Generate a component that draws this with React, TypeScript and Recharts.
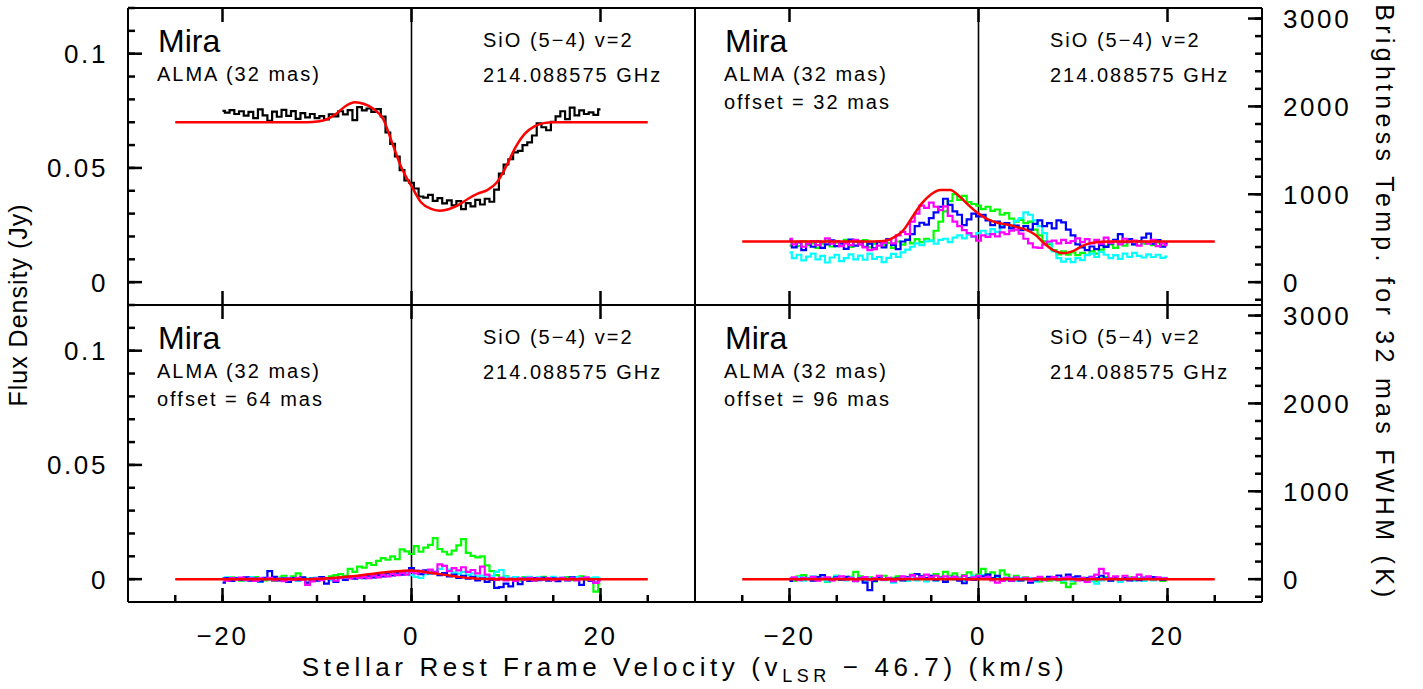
import React from "react";
import { LineChart, Line, XAxis, YAxis, ReferenceLine } from "recharts";

// channel grid of the spectra (km/s) and of the model curves
const specVel = Array.from({ length: 81 }, (_, i) => -20 + i * 0.5);
const modelVel = Array.from({ length: 51 }, (_, i) => -25 + i);

// all flux values below are in mJy

// top left: centre of the star
const tlBlack = [
  75.0, 74.2, 75.3, 73.6, 74.8, 72.9, 74.5, 71.8, 75.6, 73.0,
  70.6, 74.6, 72.4, 75.4, 72.8, 74.9, 71.5, 74.0, 72.1, 73.6,
  71.8, 72.7, 71.2, 73.5, 72.6, 74.8, 73.4, 75.3, 70.9, 76.6,
  75.2, 76.0, 74.5, 75.7, 72.5, 65.5, 60.5, 55.0, 49.0, 44.5,
  43.5, 41.0, 37.5, 37.0, 38.2, 35.6, 36.8, 34.5, 35.8, 33.6,
  35.5, 32.0, 34.6, 33.2, 36.0, 34.0, 36.5, 35.2, 40.5, 47.5,
  51.5, 53.8, 56.8, 57.5, 60.0, 61.2, 64.2, 69.5, 67.8, 66.5,
  70.2, 72.6, 74.8, 71.4, 76.4, 73.0, 75.2, 73.6, 74.3, 73.2,
  75.6,
];
const tlModel = [
  70, 70, 70, 70, 70, 70, 70, 70, 70, 70, 70, 70, 70, 70, 70,
  70.3, 71.2, 73.6, 77.0, 78.7, 78.0, 75.8, 71.4, 60.4, 49.5,
  42.0, 35.0, 32.2, 31.3, 32.0, 33.8, 36.5, 38.7, 40.3, 43.5,
  50.5, 59.0, 65.0, 68.2, 69.6,
  70, 70, 70, 70, 70, 70, 70, 70, 70, 70, 70,
];

// top right: offset = 32 mas
const trGreen = [
  16.0, 17.5, 15.8, 18.0, 16.2, 17.0, 15.0, 16.8, 18.2, 15.6,
  17.3, 16.0, 18.5, 15.4, 17.6, 16.5, 18.4, 15.2, 16.9, 18.0,
  16.3, 17.2, 15.0, 17.8, 16.4, 18.6, 17.0, 18.8, 17.5, 19.0,
  18.2, 22.5, 26.5, 31.0, 35.5, 38.5, 36.0, 37.8, 35.0, 34.2,
  33.5, 32.0, 33.0, 31.2, 31.8, 29.5, 30.2, 27.8, 26.5, 27.2,
  25.8, 26.5, 23.0, 20.5, 18.0, 16.5, 14.0, 12.2, 13.5, 12.0,
  13.0, 11.8, 12.8, 12.0, 13.6, 12.5, 14.2, 15.8, 16.5, 15.0,
  17.2, 16.0, 17.8, 16.5, 18.0, 16.8, 17.5, 16.2, 17.3, 16.0,
  16.8,
];
const trCyan = [
  13.0, 10.5, 12.0, 9.5, 11.2, 12.5, 10.0, 11.5, 8.6, 10.8,
  12.0, 9.2, 10.5, 12.2, 10.0, 11.6, 9.8, 12.5, 10.2, 11.0,
  8.8, 10.6, 12.4, 11.0, 13.0, 14.2, 15.5, 17.0, 16.2, 17.8,
  18.2, 16.8, 18.5, 19.0, 17.5, 19.5, 20.5, 19.2, 20.8, 19.8,
  21.5, 22.5, 21.0, 23.2, 22.0, 24.5, 25.5, 24.0, 26.8, 28.0,
  30.5, 29.5, 27.0, 24.5, 21.5, 17.5, 13.5, 10.5, 9.0, 10.2,
  8.8, 10.5, 9.6, 11.8, 12.5, 11.0, 13.2, 12.0, 10.5, 11.8,
  10.2, 12.5, 11.0, 12.8, 11.5, 10.8, 12.2, 11.0, 12.0, 10.6,
  11.2,
];
const trBlue = [
  18.5, 15.2, 17.4, 14.0, 16.8, 15.5, 17.9, 15.0, 16.5, 18.3,
  15.8, 17.0, 14.6, 18.6, 16.0, 17.7, 15.4, 16.9, 14.8, 17.5,
  15.2, 18.9, 16.3, 14.5, 17.8, 18.5, 21.0, 24.5, 26.0, 25.2,
  28.0, 30.5, 33.0, 36.5, 33.8, 31.0, 29.5, 25.0, 27.5, 30.0,
  28.8, 29.5, 27.0, 25.0, 26.5, 24.0, 25.8, 23.5, 24.8, 22.8,
  24.5, 23.0, 25.5, 27.0, 24.5, 25.8, 23.5, 27.0, 26.2, 23.0,
  20.5, 16.5, 15.2, 14.0, 15.6, 14.5, 16.2, 15.4, 17.0, 18.5,
  21.0, 17.5, 18.8, 16.5, 18.0, 19.5, 21.2, 16.8, 18.4, 15.5,
  17.0,
];
const trMagenta = [
  19.0, 16.5, 17.8, 15.5, 16.8, 18.0, 16.2, 17.5, 19.2, 16.8,
  18.0, 15.8, 17.0, 16.2, 18.5, 16.5, 15.2, 14.0, 14.5, 16.0,
  17.2, 18.5, 17.0, 20.5, 22.0, 21.0, 26.5, 30.0, 33.5, 32.5,
  34.8, 33.0, 31.5, 33.2, 29.0, 26.5, 24.5, 22.8, 21.5, 20.0,
  18.2, 20.5, 19.8, 21.0, 20.0, 21.8, 21.0, 22.5, 23.0, 21.2,
  19.0, 17.0, 15.2, 15.0, 16.5, 17.8, 18.2, 17.0, 18.5, 17.2,
  18.0, 19.2, 17.5, 18.8, 17.0, 18.5, 16.8, 19.5, 17.2, 18.0,
  16.5, 19.0, 17.5, 18.2, 16.0, 17.8, 16.8, 18.5, 15.8, 17.0,
  16.2,
];
const trModel = [
  17.8, 17.8, 17.8, 17.8, 17.8, 17.8, 17.8, 17.8, 17.8, 17.8, 17.8, 17.8, 17.8, 17.8, 17.8,
  18.0, 19.5, 22.5, 28.5, 34.5, 38.5, 40.3, 40.3, 37.5, 33.5,
  30.0, 27.5, 26.0, 25.2, 24.2, 23.0, 20.8, 16.8, 13.8, 12.7,
  13.6, 15.9, 17.2, 17.7, 17.8,
  17.8, 17.8, 17.8, 17.8, 17.8, 17.8, 17.8, 17.8, 17.8, 17.8, 17.8,
];

// bottom left: offset = 64 mas
const blGreen = [
  0.5, -0.3, 0.8, 0.2, -0.6, 0.6, -0.2, 0.9, 0.1, -0.5,
  0.4, -0.8, 0.7, 1.5, 0.3, 1.2, 2.5, 0.6, -1.8, 0.2,
  -0.4, 0.8, 0.2, 1.2, 1.8, 2.2, 1.4, 4.5, 3.2, 5.5,
  5.0, 7.0, 6.2, 8.0, 9.2, 8.5, 10.0, 8.8, 13.0, 12.2,
  11.0, 14.5, 12.0, 13.8, 15.0, 18.0, 13.2, 12.0, 10.8, 12.5,
  14.8, 17.5, 11.5, 10.2, 9.5, 10.0, 6.0, 3.5, 1.8, 0.6,
  1.2, -0.2, 0.5, -0.6, 0.9, 0.2, -0.8, 0.4, 1.0, -0.3,
  0.6, -0.5, 0.3, 0.9, -0.4, 0.5, 1.2, -0.2, 0.4, -5.5,
  -2.0,
];
const blCyan = [
  0.4, 0.8, -0.3, 0.6, 0.1, -0.5, 0.9, 0.2, -1.2, 0.5,
  -0.2, 0.8, 0.3, -0.4, 0.6, 0.1, -0.6, 0.5, 0.2, -0.3,
  0.7, 0.0, 0.4, -0.5, 0.3, 0.8, 0.2, 0.6, 1.0, 0.4,
  1.2, 1.6, 0.9, 1.8, 2.2, 1.5, 2.6, 2.0, 2.9, 2.2,
  1.8, 1.0, 0.5, 2.2, 3.5, 2.8, 4.5, 5.8, 4.2, 3.0,
  2.4, 3.2, 1.8, 2.5, 1.2, 1.6, 0.8, 1.5, 3.2, 4.0,
  1.0, 0.3, 0.9, -0.2, 0.6, 1.0, 0.2, 0.8, -0.3, 0.5,
  1.0, 0.3, 0.7, -0.2, 0.5, 0.9, 0.1, 0.6, 0.2, 0.8,
  0.3,
];
const blBlue = [
  -1.5, 0.5, -0.8, 0.4, -0.3, 0.8, -0.6, 0.2, -1.0, 0.6,
  3.5, 1.0, -0.5, 0.3, -1.2, 0.5, -0.4, 0.8, -1.5, 0.2,
  -0.6, 0.9, -2.0, 0.4, -1.2, 0.6, -0.3, 0.9, 0.2, 1.0,
  0.4, 1.5, 0.8, 1.8, 1.2, 2.5, 1.6, 2.8, 2.0, 3.4,
  4.8, 3.6, 2.2, 3.8, 2.5, 3.2, 1.8, 2.6, 1.2, 2.0,
  0.5, 1.5, 0.2, 1.0, -0.5, 0.4, -1.2, -0.3, -3.8, -3.5,
  -2.0, -3.2, -0.8, -2.2, 0.2, -0.8, 0.5, -0.4, 0.6, -0.6,
  0.3, -0.9, 0.2, -0.5, 0.8, -0.2, -2.5, 0.1, -0.8, -1.5,
  -0.5,
];
const blMagenta = [
  0.2, -0.6, 0.5, -0.2, 0.7, -0.4, 0.3, -0.8, 0.4, 0.0,
  0.6, -0.5, 0.2, -0.9, 0.4, -0.3, 0.6, -0.2, -2.5, -1.0,
  0.3, -0.4, 0.5, 0.1, -0.6, 0.4, 0.9, 0.3, 1.2, 0.6,
  1.0, 0.4, 1.5, 0.8, 1.8, 1.2, 2.4, 1.8, 2.6, 2.0,
  3.2, 2.5, 3.6, 2.8, 4.2, 3.0, 6.5, 5.8, 3.5, 4.8,
  3.8, 5.2, 3.2, 4.0, 2.5, 5.5, 2.0, 0.5, -0.3, 0.6,
  -0.5, 0.2, -0.8, 0.4, -0.3, 0.6, -0.6, 0.3, -0.2, 0.5,
  -0.4, 0.2, 0.6, -0.3, 0.4, -0.5, 0.3, 0.8, -0.4, -1.6,
  -0.6,
];
const blModel = [
  0, 0, 0, 0, 0, 0, 0, 0, 0, 0, 0, 0, 0, 0, 0,
  0.1, 0.3, 0.6, 1.0, 1.4, 1.9, 2.4, 2.9, 3.3, 3.6,
  3.8, 3.4, 2.8, 2.2, 1.6, 1.0, 0.5, 0.2, 0.05, 0,
  0, 0, 0, 0, 0, 0, 0, 0, 0, 0, 0, 0, 0, 0, 0, 0,
];

// bottom right: offset = 96 mas
const brGreen = [
  0.3, -0.8, 1.2, 1.8, 0.5, -0.4, 1.0, 0.2, -1.2, 0.6,
  1.4, -0.3, 0.5, 1.0, 3.2, 1.2, -0.5, 0.8, -1.0, 0.3,
  1.5, -0.2, 0.6, 1.2, -0.4, 0.8, 2.0, 0.4, 1.5, -0.3,
  0.9, 2.2, 1.0, 3.2, 1.5, 2.5, 0.8, 1.8, 3.0, 1.5,
  2.0, 4.5, 2.2, 3.0, 1.2, 3.8, 2.0, 0.5, 1.5, -0.5,
  0.8, -0.2, 0.5, -1.0, 0.3, -0.6, 0.8, -0.5, -1.5, -3.5,
  -2.0, -0.3, 0.6, -0.5, 0.4, -0.8, 0.2, 0.9, -0.3, 0.5,
  -0.6, 0.3, 0.8, -0.2, 0.4, -0.5, 0.6, -0.3, 0.2, -0.8,
  -0.4,
];
const brCyan = [
  0.5, -0.2, 0.9, -0.6, 0.3, 1.2, -0.3, 0.6, -1.0, 0.4,
  1.5, 0.2, -0.5, 0.8, -0.2, 0.6, -1.2, 0.3, -0.6, 0.9,
  -0.4, 0.5, -1.5, -0.2, 0.6, -0.8, 0.4, -0.5, 0.8, -1.0,
  0.3, -0.6, 0.5, -0.4, 0.8, -0.2, 0.5, -0.8, 0.6, 1.4,
  0.3, 1.8, 0.6, -0.3, 0.8, 0.2, -0.5, 0.4, -0.8, 0.6,
  -0.2, 0.5, -1.0, 0.3, -0.4, 0.8, -0.3, 0.5, -0.6, 0.2,
  -0.8, 0.4, -0.3, 0.6, -1.0, -2.0, -0.5, 0.3, -0.6, 0.4,
  -1.2, -0.3, 0.5, -0.6, 0.2, -0.8, 0.4, -0.5, 0.3, 0.6,
  -0.2,
];
const brBlue = [
  -0.8, 0.4, -0.3, 0.6, 0.1, -0.6, 0.9, 1.8, 0.5, -0.4,
  0.8, -0.2, 1.0, 0.2, -0.9, 0.5, -1.5, -4.8, -0.8, 0.6,
  -0.3, 0.4, -0.9, 0.3, -0.5, 0.8, 1.6, 2.2, 1.2, 0.5,
  1.4, -0.4, 0.6, -1.2, 0.5, 1.0, -0.6, -1.8, 0.4, -0.3,
  0.8, 1.2, 2.0, 0.5, 1.4, -0.2, 0.6, -0.8, 0.3, -0.5,
  0.2, -1.5, -0.4, 0.5, -0.2, 1.0, 0.3, 1.6, 0.6, 2.0,
  0.8, 1.2, -0.4, 0.5, 1.0, 0.4, 1.5, 0.2, -0.6, 0.8,
  0.0, 0.6, -0.5, 0.3, -0.4, 0.7, 0.2, 0.9, 0.5, -0.3,
  0.4,
];
const brMagenta = [
  0.2, 0.8, -0.4, 0.5, 0.0, 1.0, -0.6, 0.4, 0.8, -0.5,
  0.3, 1.2, -0.2, 0.6, -0.8, 0.3, 0.9, -0.4, 0.5, 1.5,
  -0.3, 0.6, -0.9, 0.2, 1.2, 0.5, 1.8, 0.3, 1.0, 2.0,
  0.8, 1.5, 0.4, 1.2, 0.6, 1.0, 0.2, 1.4, -0.2, 0.8,
  1.5, 0.4, 1.0, -0.5, -1.5, -0.8, 0.5, -0.6, 0.8, 0.0,
  0.6, -0.8, 0.4, 1.0, -0.4, 0.2, 0.9, -0.3, 0.5, 1.0,
  0.2, -0.5, 0.6, -1.2, 0.8, 2.0, 4.5, 2.5, 0.5, 1.2,
  -0.2, 1.5, 0.3, 0.8, 2.0, 0.4, 1.2, 0.0, 0.8, 0.2,
  0.5,
];
const brModel = [
  0, 0, 0, 0, 0, 0, 0, 0, 0, 0, 0, 0, 0, 0, 0, 0, 0,
  0, 0, 0, 0, 0, 0, 0, 0, 0, 0, 0, 0, 0, 0, 0, 0, 0,
  0, 0, 0, 0, 0, 0, 0, 0, 0, 0, 0, 0, 0, 0, 0, 0, 0,
];

const offsetLabels = ["", "offset = 32 mas", "offset = 64 mas", "offset = 96 mas"];

const xTicks = [-25, -20, -15, -10, -5, 0, 5, 10, 15, 20, 25];
const fluxTicks = [0, 0.01, 0.02, 0.03, 0.04, 0.05, 0.06, 0.07, 0.08, 0.09, 0.1, 0.11, 0.12];
const tempTicks = [-200, 0, 200, 400, 600, 800, 1000, 1200, 1400, 1600, 1800, 2000, 2200, 2400, 2600, 2800, 3000];

const X_DOM = [-30, 30];
const FLUX_DOM = [-0.01, 0.12];
const TEMP_DOM = [-260, 3120];

const PW = 567;
const PH = 297;
const X0 = 128;
const Y0 = 8;
const FONT = "'Liberation Sans', Arial, sans-serif";
const TICK_W = 2.5;
const MINOR = 7;

const toSeries = (vel: number[], mjy: number[]) => vel.map((v, i) => ({ v, y: mjy[i] / 1000 }));
const minus = (v: number) => (v < 0 ? `\u2212${-v}` : `${v}`);
const isMajorX = (v: number) => v % 20 === 0;
const isMajorFlux = (v: number) => Math.round(v * 100) % 5 === 0;
const isMajorTemp = (v: number) => v % 1000 === 0;

// frame positions of the tick values (same domains and panel size as the charts)
const xPos = (col: number, v: number) => X0 + col * PW + ((v - X_DOM[0]) / (X_DOM[1] - X_DOM[0])) * PW;
const fluxPos = (row: number, v: number) => Y0 + row * PH + ((FLUX_DOM[1] - v) / (FLUX_DOM[1] - FLUX_DOM[0])) * PH;
const tempPos = (row: number, v: number) => Y0 + row * PH + ((TEMP_DOM[1] - v) / (TEMP_DOM[1] - TEMP_DOM[0])) * PH;

const panels = [
  { col: 0, row: 0, spectra: [{ c: "#000000", d: tlBlack }], model: tlModel },
  {
    col: 1, row: 0, model: trModel,
    spectra: [{ c: "#00ff00", d: trGreen }, { c: "#00ffff", d: trCyan }, { c: "#0000ff", d: trBlue }, { c: "#ff00ff", d: trMagenta }],
  },
  {
    col: 0, row: 1, model: blModel,
    spectra: [{ c: "#00ff00", d: blGreen }, { c: "#00ffff", d: blCyan }, { c: "#0000ff", d: blBlue }, { c: "#ff00ff", d: blMagenta }],
  },
  {
    col: 1, row: 1, model: brModel,
    spectra: [{ c: "#00ff00", d: brGreen }, { c: "#00ffff", d: brCyan }, { c: "#0000ff", d: brBlue }, { c: "#ff00ff", d: brMagenta }],
  },
];

const tickText = { fontFamily: FONT, fontSize: 26, fill: "#000", letterSpacing: 2.6 };

// tick labels, drawn by the axes (x, y arrive on the frame line)
const bottomLabel = (props: any) => {
  const { x, y, payload } = props;
  if (!isMajorX(payload.value)) return <g />;
  return <text x={x} y={y + 43} textAnchor="middle" style={tickText}>{minus(payload.value)}</text>;
};
const leftLabel = (props: any) => {
  const { x, y, payload } = props;
  const v = payload.value;
  if (!isMajorFlux(v)) return <g />;
  return <text x={x - 20} y={y} dy="0.36em" textAnchor="end" style={tickText}>{v === 0 ? "0" : String(v)}</text>;
};
const rightLabel = (props: any) => {
  const { x, y, payload } = props;
  const v = payload.value;
  if (!isMajorTemp(v)) return <g />;
  return <text x={x + 21} y={y} dy="0.36em" textAnchor="start" style={tickText}>{v}</text>;
};

const border = { stroke: "#000", strokeWidth: 2 };
const tickLine = { stroke: "#000", strokeWidth: TICK_W };

function Panel({ p }: { p: any }) {
  const padL = p.col === 0 ? 128 : 4;
  const padR = p.col === 1 ? 100 : 4;
  const padT = 4;
  const padB = p.row === 1 ? 60 : 4;
  return (
    <div style={{ position: "absolute", left: X0 + p.col * PW - padL, top: Y0 + p.row * PH - padT }}>
      <LineChart
        width={PW + padL + padR}
        height={PH + padT + padB}
        margin={{ top: 0, right: 0, bottom: 0, left: 0 }}
      >
        {/* negative tick size turns the tick marks into the frame */}
        <XAxis
          xAxisId="b" dataKey="v" type="number" domain={X_DOM} allowDataOverflow
          ticks={xTicks} interval={0} height={padB} tickSize={-MINOR} tickMargin={MINOR} tickLine={tickLine}
          axisLine={border} tick={p.row === 1 ? bottomLabel : false}
        />
        <XAxis
          xAxisId="t" orientation="top" dataKey="v" type="number" domain={X_DOM} allowDataOverflow
          ticks={xTicks} interval={0} height={padT} tickSize={-MINOR} tickMargin={MINOR} tickLine={tickLine}
          axisLine={border} tick={false}
        />
        <YAxis
          yAxisId="l" type="number" domain={FLUX_DOM} allowDataOverflow
          ticks={fluxTicks} interval={0} width={padL} tickSize={-MINOR} tickMargin={MINOR}
          tickLine={p.col === 0 ? tickLine : false}
          axisLine={border} tick={p.col === 0 ? leftLabel : false}
        />
        <YAxis
          yAxisId="r" orientation="right" type="number" domain={TEMP_DOM} allowDataOverflow
          ticks={tempTicks} interval={0} width={padR} tickSize={-MINOR} tickMargin={MINOR}
          tickLine={p.col === 1 ? tickLine : false}
          axisLine={border} tick={p.col === 1 ? rightLabel : false}
        />
        <ReferenceLine xAxisId="b" yAxisId="l" x={0} stroke="#000" strokeWidth={1.6} />
        {p.spectra.map((s: any, i: number) => (
          <Line
            key={i} xAxisId="b" yAxisId="l" data={toSeries(specVel, s.d)} dataKey="y"
            type="step" stroke={s.c} strokeWidth={2.2} dot={false} isAnimationActive={false}
          />
        ))}
        <Line
          xAxisId="b" yAxisId="l" data={toSeries(modelVel, p.model)} dataKey="y"
          type="monotone" stroke="#ff0000" strokeWidth={2.5} dot={false} isAnimationActive={false}
        />
      </LineChart>
    </div>
  );
}

// longer marks for the major ticks
function MajorTicks({ p }: { p: any }) {
  const top = Y0 + p.row * PH;
  const bottom = top + PH;
  const left = X0 + p.col * PW;
  const right = left + PW;
  const h = TICK_W / 2;
  const marks: any[] = [];
  xTicks.filter(isMajorX).forEach((v) => {
    const x = xPos(p.col, v);
    marks.push(<rect key={`b${v}`} x={x - h} y={bottom - 14} width={TICK_W} height={14} />);
    marks.push(<rect key={`t${v}`} x={x - h} y={top} width={TICK_W} height={14} />);
  });
  if (p.col === 0) {
    fluxTicks.filter(isMajorFlux).forEach((v) => {
      const y = fluxPos(p.row, v);
      marks.push(<rect key={`l${v}`} x={left} y={y - h} width={14} height={TICK_W} />);
    });
  } else {
    tempTicks.filter(isMajorTemp).forEach((v) => {
      const y = tempPos(p.row, v);
      marks.push(<rect key={`r${v}`} x={right - 14} y={y - h} width={14} height={TICK_W} />);
    });
  }
  return <g fill="#000000">{marks}</g>;
}

const annot = { fontFamily: FONT, fill: "#000" };

export default function App() {
  return (
    <div style={{ position: "absolute", left: 0, top: 0, width: 1423, height: 689, background: "#fff" }}>
      {panels.map((p, i) => (
        <Panel key={i} p={p} />
      ))}
      <svg width={1423} height={689} style={{ position: "absolute", left: 0, top: 0, pointerEvents: "none" }}>
        {panels.map((p, i) => (
          <MajorTicks key={`mt${i}`} p={p} />
        ))}
        {panels.map((p, i) => {
          const dx = p.col * PW;
          const dy = p.row * PH;
          return (
            <g key={i} style={annot}>
              <text x={158 + dx} y={52 + dy} fontSize={32}>Mira</text>
              <text x={157 + dx} y={81 + dy} fontSize={20} letterSpacing={2}>ALMA (32 mas)</text>
              {offsetLabels[i] && (
                <text x={157 + dx} y={109 + dy} fontSize={20} letterSpacing={2}>{offsetLabels[i]}</text>
              )}
              <text x={483 + dx} y={47 + dy} fontSize={20} letterSpacing={2}>SiO (5{"\u2212"}4) v=2</text>
              <text x={483 + dx} y={82 + dy} fontSize={20} letterSpacing={2}>214.088575 GHz</text>
            </g>
          );
        })}
        <text
          transform="translate(27,305) rotate(-90)" textAnchor="middle"
          style={{ ...annot, fontSize: 25, letterSpacing: 1 }}
        >
          Flux Density (Jy)
        </text>
        <text
          transform="translate(1376,303) rotate(90)" textAnchor="middle"
          style={{ ...annot, fontSize: 25, letterSpacing: 4.3 }}
        >
          Brightness Temp. for 32 mas FWHM (K)
        </text>
        <text x={685} y={676} textAnchor="middle" style={{ ...annot, fontSize: 26, letterSpacing: 4.6 }}>
          Stellar Rest Frame Velocity (v
          <tspan fontSize={18} dy={6}>LSR</tspan>
          <tspan dy={-6}> {"\u2212"} 46.7) (km/s)</tspan>
        </text>
      </svg>
    </div>
  );
}
